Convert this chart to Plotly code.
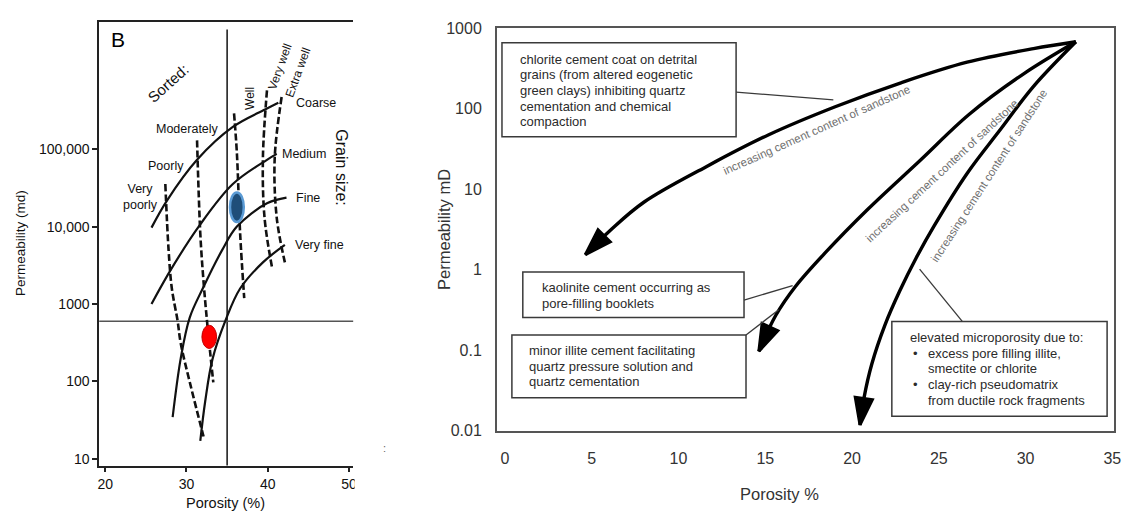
import math
import plotly.graph_objects as go

FIG_W, FIG_H = 1127, 520
FONT = "Arial, 'Liberation Sans', Helvetica, sans-serif"

# ---------------- Panel B: grain size / sorting template ----------------
grain_size_names = ["Coarse", "Medium", "Fine", "Very fine"]
coarse_porosity = [25.7, 27.6, 31.3, 35.7, 39.9, 41.3]
coarse_perm = [9700, 21700, 73000, 194000, 335000, 398000]
medium_porosity = [25.7, 28.1, 31.5, 35.7, 39.9, 41.1]
medium_perm = [1000, 2800, 10000, 35500, 73000, 87000]
fine_porosity = [28.3, 29.3, 30.4, 32.0, 34.4, 36.2, 39.9, 42.3]
fine_perm = [34.5, 200, 668, 1585, 5000, 10000, 20000, 23700]
very_fine_porosity = [31.7, 32.3, 33.2, 34.8, 36.6, 39.4, 42.1]
very_fine_perm = [17, 55, 194, 613, 1585, 3450, 5800]

# lines of constant sorting (dashed)
sorting_poorly_porosity = [27.4, 27.8, 28.2, 28.9, 29.3, 30.5, 32.1]
sorting_poorly_perm = [35500, 5000, 1585, 613, 308, 89, 19.4]
sorting_moderately_porosity = [31.3, 31.7, 32.1, 32.6, 33.3]
sorting_moderately_perm = [130000, 8150, 1940, 500, 97]
sorting_well_porosity = [35.85, 36.2, 36.6, 37.1]
sorting_well_perm = [290000, 89000, 8150, 1190]
sorting_very_well_porosity = [39.9, 39.4, 39.6, 40.5]
sorting_very_well_perm = [577000, 77000, 13000, 3060]
sorting_extra_well_porosity = [41.7, 40.85, 41.1, 42.1]
sorting_extra_well_perm = [473000, 77000, 13000, 3450]

# samples plotted on the template
red_sample = (32.8, 376)
blue_sample = (36.2, 17800)

# cut-off lines
cutoff_porosity = 35
cutoff_perm = 600

left_x_ticks = [20, 30, 40, 50]
left_y_ticks = [10, 100, 1000, 10000, 100000]
left_y_ticktext = ["10", "100", "1000", "10,000", "100,000"]

# ---------------- Right panel: cement pathways ----------------
chlorite_porosity = [32.9, 30.46, 26.63, 22.86, 19.03, 15.2, 11.6, 8.0, 6.06, 4.63]
chlorite_perm = [680, 560, 379, 212, 106, 47.6, 19.1, 6.9, 3.08, 1.54]
kaolinite_illite_porosity = [32.9, 29.89, 26.74, 23.89, 20.91, 18.46, 16.74, 15.6, 14.63]
kaolinite_illite_perm = [680, 272, 85, 22.5, 5.65, 1.63, 0.62, 0.27, 0.097]
microporosity_porosity = [32.9, 30.46, 28.57, 26.63, 24.74, 23.71, 22.74, 21.89, 21.14,
                          20.69, 20.46]
microporosity_perm = [680, 190, 56, 15.7, 3.53, 1.42, 0.54, 0.204, 0.0675, 0.0256,
                      0.0118]

right_x_ticks = [0, 5, 10, 15, 20, 25, 30, 35]
right_y_ticks = [0.01, 0.1, 1, 10, 100, 1000]
right_y_ticktext = ["0.01", "0.1", "1", "10", "100", "1000"]

path_label = "increasing cement content of sandstone"
box_chlorite = ["chlorite cement coat on detrital", "grains (from altered eogenetic",
                "green clays) inhibiting quartz", "cementation and chemical", "compaction"]
box_kaolinite = ["kaolinite cement occurring as", "pore-filling booklets"]
box_illite = ["minor illite cement facilitating", "quartz pressure solution and",
              "quartz cementation"]
box_micro_head = "elevated microporosity due to:"
box_micro_items = [["excess pore filling illite,", "smectite or chlorite"],
                   ["clay-rich pseudomatrix", "from ductile rock fragments"]]


def px(x):
    return x / FIG_W


def py(y):
    return 1 - y / FIG_H


fig = go.Figure()

# ---- left panel curves ----
for xs, ys in [(coarse_porosity, coarse_perm), (medium_porosity, medium_perm),
               (fine_porosity, fine_perm), (very_fine_porosity, very_fine_perm)]:
    fig.add_trace(go.Scatter(x=xs, y=ys, mode="lines", xaxis="x", yaxis="y",
                             line=dict(color="#111", width=2.2, shape="spline"),
                             showlegend=False, hoverinfo="skip"))

for xs, ys in [(sorting_poorly_porosity, sorting_poorly_perm),
               (sorting_moderately_porosity, sorting_moderately_perm),
               (sorting_well_porosity, sorting_well_perm),
               (sorting_very_well_porosity, sorting_very_well_perm),
               (sorting_extra_well_porosity, sorting_extra_well_perm)]:
    fig.add_trace(go.Scatter(x=xs, y=ys, mode="lines", xaxis="x", yaxis="y",
                             line=dict(color="#111", width=2.6, shape="spline",
                                       dash="7px,3px"),
                             showlegend=False, hoverinfo="skip"))

# ---- right panel pathways with arrow heads ----
for xs, ys in [(chlorite_porosity, chlorite_perm),
               (kaolinite_illite_porosity, kaolinite_illite_perm),
               (microporosity_porosity, microporosity_perm)]:
    sizes = [0] * (len(xs) - 1) + [28]
    fig.add_trace(go.Scatter(x=xs, y=ys, mode="lines+markers", xaxis="x2", yaxis="y2",
                             line=dict(color="#000000", width=3.4, shape="spline"),
                             marker=dict(symbol="arrow", size=sizes, angleref="previous",
                                         color="#000000", opacity=1,
                                         line=dict(color="#000000", width=3)),
                             opacity=1, showlegend=False, hoverinfo="skip"))

shapes = []
# cut-off lines
shapes.append(dict(type="line", xref="x", yref="y domain", x0=cutoff_porosity,
                   x1=cutoff_porosity, y0=0, y1=0.982,
                   line=dict(color="#222", width=1.6), layer="below"))
shapes.append(dict(type="line", xref="x domain", yref="y", x0=0, x1=1,
                   y0=cutoff_perm, y1=cutoff_perm,
                   line=dict(color="#555", width=1.5), layer="below"))


# samples drawn as ellipses: half-width in porosity units, half-height in decades
def ellipse(center, half_w, half_dec, fill, edge, edge_w):
    cx, cy = center
    return dict(type="circle", xref="x", yref="y", x0=cx - half_w, x1=cx + half_w,
                y0=cy / 10 ** half_dec, y1=cy * 10 ** half_dec, fillcolor=fill,
                line=dict(color=edge, width=edge_w), layer="above")


shapes.append(ellipse(red_sample, 0.9, 0.15, "#ff0000", "#c00000", 1))
shapes.append(ellipse(blue_sample, 0.85, 0.19, "#1f4e79", "#5b9bd5", 2.5))

# edge of the left figure (trimmed)
shapes.append(dict(type="rect", xref="paper", yref="paper", x0=px(355.5), x1=px(378),
                   y0=py(505), y1=py(476), fillcolor="white",
                   line=dict(width=0), layer="above"))

# text boxes and leader lines
box_color = "#3a3a3a"
for (x0, y0, x1, y1) in [(504, 36, 740, 133), (525, 273, 748, 320),
                         (514, 338, 750, 403), (897, 324, 1114, 422)]:
    shapes.append(dict(type="rect", xref="paper", yref="paper", x0=px(x0), x1=px(x1),
                       y0=py(y1), y1=py(y0), line=dict(color=box_color, width=1.5)))
for (x0, y0, x1, y1) in [(740, 87, 838, 95), (748, 302, 797, 287),
                         (750, 338, 783, 312), (968, 324, 925, 270)]:
    shapes.append(dict(type="line", xref="paper", yref="paper", x0=px(x0), x1=px(x1),
                       y0=py(y0), y1=py(y1), line=dict(color=box_color, width=1.3)))

annotations = []


def text(x, y, s, size, color="#111", angle=0, xanchor="center", yanchor="middle",
         align="center"):
    annotations.append(dict(x=x, y=y, xref="paper", yref="paper", text=s,
                            showarrow=False, textangle=angle, xanchor=xanchor,
                            yanchor=yanchor, align=align,
                            font=dict(family=FONT, size=size, color=color)))


def text_lines(lines, x_left, y_first, step=16.2, size=13):
    for i, s in enumerate(lines):
        text(px(x_left), py(y_first + i * step), s, size, color="#2b2b2b",
             xanchor="left")


# left panel labels
text(px(117), py(33), "B", 21, color="#000")
text(px(167), py(78), "Sorted:", 15, angle=-42)
text(px(140), py(195), "Very<br>poorly", 12.5)
text(px(165), py(163), "Poorly", 12.5)
text(px(187), py(125), "Moderately", 12.5)
text(px(250), py(94), "Well", 12, angle=-90)
text(px(280), py(61), "Very well", 12, angle=-70)
text(px(298), py(67), "Extra well", 12, angle=-70)
text(px(342), py(165), "Grain size:", 16, angle=90)
grain_ends = [(coarse_porosity[-1], coarse_perm[-1], 16),
              (medium_porosity[-1], medium_perm[-1], 3),
              (fine_porosity[-1], fine_perm[-1], 8),
              (very_fine_porosity[-1], very_fine_perm[-1], 8)]
for name, (gx, gy, shift) in zip(grain_size_names, grain_ends):
    annotations.append(dict(x=gx, y=math.log10(gy), xref="x", yref="y", text=name,
                            showarrow=False, xanchor="left", yanchor="middle",
                            xshift=shift,
                            font=dict(family=FONT, size=12.5, color="#111")))
text(px(18), py(243), "Permeability (md)", 13.5, angle=-90)
text(px(225), py(512), "Porosity (%)", 14.5)
text(px(386), py(455), ":", 11, color="#666")

# right panel labels
text(px(445), py(229), "Permeability mD", 16.5, color="#333", angle=-90)
text(px(784), py(502), "Porosity %", 16.5, color="#333")
text(px(821), py(126), path_label, 11.5, color="#707070", angle=-24)
text(px(947), py(168), path_label, 11.5, color="#707070", angle=-43)
text(px(995), py(174), path_label, 11.5, color="#707070", angle=-57)

text_lines(box_chlorite, 520, 53)
text_lines(box_kaolinite, 542, 289)
text_lines(box_illite, 529, 354)
text_lines([box_micro_head], 913, 341)
row = 357
for item in box_micro_items:
    text(px(916), py(row), "•", 13, color="#2b2b2b", xanchor="left")
    text_lines(item, 931, row)
    row += 2 * 16.3

fig.update_layout(
    width=FIG_W, height=FIG_H,
    margin=dict(l=0, r=0, t=0, b=0),
    paper_bgcolor="white", plot_bgcolor="white",
    font=dict(family=FONT, color="#111"),
    shapes=shapes, annotations=annotations,
    xaxis=dict(domain=[px(98), px(354)], range=[19.27, 50.5], anchor="y",
               tickvals=left_x_ticks, ticks="outside", ticklen=5, tickwidth=1.5,
               tickcolor="#222", showline=True, linecolor="#222", linewidth=1.8,
               mirror=True, showgrid=False, zeroline=False,
               tickfont=dict(size=14, color="#111")),
    yaxis=dict(type="log", domain=[py(473), py(14)], range=[0.9125, 6.65], anchor="x",
               tickvals=left_y_ticks, ticktext=left_y_ticktext, ticks="outside",
               ticklen=5, tickwidth=1.5, tickcolor="#222", showline=True,
               linecolor="#222", linewidth=1.8, showgrid=False, zeroline=False,
               tickfont=dict(size=14, color="#111")),
    xaxis2=dict(domain=[px(499), px(1121)], range=[-0.46, 35.1], anchor="y2",
                tickvals=right_x_ticks, ticks="", showline=True, linecolor="#555",
                linewidth=2, mirror=True, showgrid=False, zeroline=False,
                ticklabelstandoff=12, tickfont=dict(size=16, color="#333")),
    yaxis2=dict(type="log", domain=[py(437), py(21)], range=[-2, 3], anchor="x2",
                tickvals=right_y_ticks, ticktext=right_y_ticktext, ticks="",
                showline=True, linecolor="#555", linewidth=2, mirror=True,
                showgrid=False, zeroline=False, ticklabelstandoff=10,
                tickfont=dict(size=16, color="#333")),
)

fig.write_html("out.html")
